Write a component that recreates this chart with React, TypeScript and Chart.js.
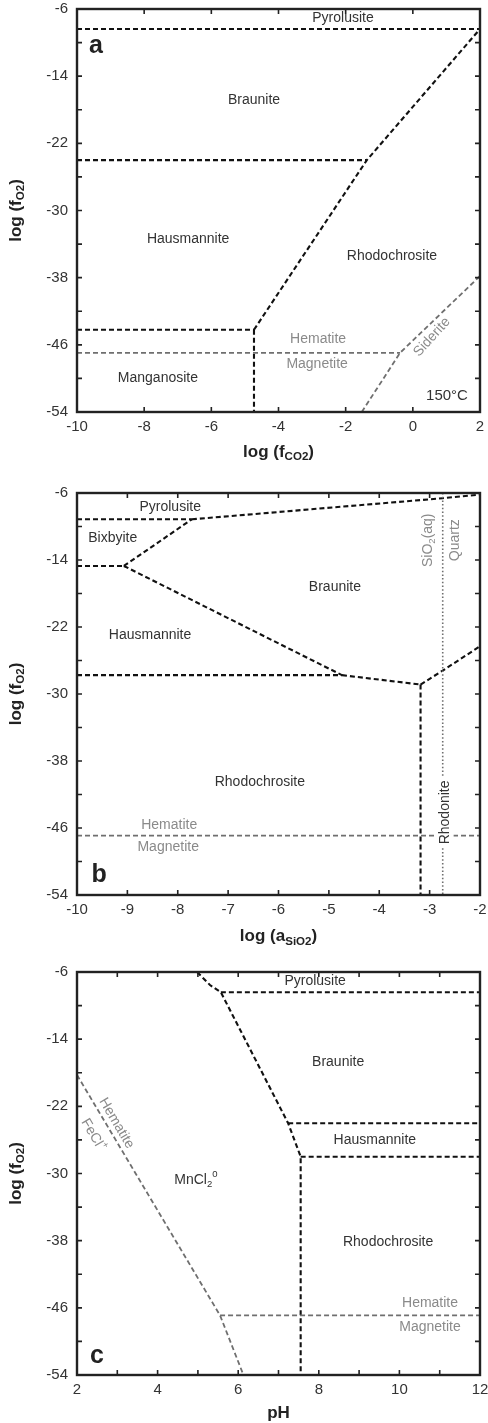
import { useEffect, useRef } from "react";
import { Chart, registerables } from "chart.js";

Chart.register(...registerables);

type Pt = { x: number; y: number };
type Tag = { text: string; x: number; y: number; rot?: number };

const FONT = '"Liberation Sans", Arial, Helvetica, sans-serif';
const INK = "#222";
const TEXT = "#333";
const FE = "#8a8a8a";
const FE_LINE = "#6f6f6f";

// ---------- shared y axis: log fO2 ----------
const fO2Ticks = [-54, -50, -46, -42, -38, -34, -30, -26, -22, -18, -14, -10, -6];
const fO2Labels = [-54, -46, -38, -30, -22, -14, -6];

// ---------- panel a: log fO2 vs log fCO2 (150°C) ----------
const aCO2Ticks = [-10, -8, -6, -4, -2, 0, 2];
const aPyrolusite: Pt[] = [{ x: -10, y: -8.38 }, { x: 2, y: -8.38 }];
const aBraunHaus: Pt[] = [{ x: -10, y: -24 }, { x: -1.37, y: -24 }];
const aRhodoBound: Pt[] = [{ x: -4.73, y: -44.2 }, { x: -1.37, y: -24 }, { x: 2, y: -8.38 }];
const aHausMang: Pt[] = [{ x: -10, y: -44.2 }, { x: -4.73, y: -44.2 }];
const aMangRhodo: Pt[] = [{ x: -4.73, y: -44.2 }, { x: -4.73, y: -54 }];
const aHemMag: Pt[] = [{ x: -10, y: -46.95 }, { x: -0.38, y: -46.95 }];
const aSiderite: Pt[] = [{ x: -1.52, y: -54 }, { x: -0.38, y: -46.95 }, { x: 2, y: -37.8 }];
const aMnTags: Tag[] = [
  { text: "Pyrolusite", x: -2.08, y: -7.04 },
  { text: "Braunite", x: -4.73, y: -16.84 },
  { text: "Hausmannite", x: -6.69, y: -33.39 },
  { text: "Rhodochrosite", x: -0.62, y: -35.42 },
  { text: "Manganosite", x: -7.59, y: -49.95 },
];
const aFeTags: Tag[] = [
  { text: "Hematite", x: -2.82, y: -45.3 },
  { text: "Magnetite", x: -2.85, y: -48.28 },
  { text: "Siderite", x: 0.57, y: -45.07, rot: -48 },
];

// ---------- panel b: log fO2 vs log aSiO2 ----------
const bSiO2Ticks = [-10, -9, -8, -7, -6, -5, -4, -3, -2];
const bPyroBix: Pt[] = [{ x: -10, y: -9.14 }, { x: -7.72, y: -9.14 }];
const bPyroBraun: Pt[] = [{ x: -7.72, y: -9.14 }, { x: -2.74, y: -6.62 }, { x: -2, y: -6.2 }];
const bBixHaus: Pt[] = [{ x: -10, y: -14.71 }, { x: -9.07, y: -14.71 }];
const bBixBraun: Pt[] = [{ x: -9.07, y: -14.71 }, { x: -7.72, y: -9.14 }];
const bBraunHaus: Pt[] = [{ x: -9.07, y: -14.71 }, { x: -4.74, y: -27.75 }];
const bHausRhodo: Pt[] = [{ x: -10, y: -27.75 }, { x: -4.74, y: -27.75 }];
const bBraunRhodo: Pt[] = [{ x: -4.74, y: -27.75 }, { x: -3.18, y: -28.87 }];
const bBraunRhodonite: Pt[] = [{ x: -3.18, y: -28.87 }, { x: -2.74, y: -27.2 }, { x: -2, y: -24.3 }];
const bRhodoRhodonite: Pt[] = [{ x: -3.18, y: -28.87 }, { x: -3.18, y: -54 }];
const bHemMag: Pt[] = [{ x: -10, y: -46.9 }, { x: -2, y: -46.9 }];
const bQuartz: Pt[] = [{ x: -2.74, y: -6 }, { x: -2.74, y: -54 }];
const bMnTags: Tag[] = [
  { text: "Pyrolusite", x: -8.15, y: -7.67 },
  { text: "Bixbyite", x: -9.29, y: -11.37 },
  { text: "Braunite", x: -4.88, y: -17.25 },
  { text: "Hausmannite", x: -8.55, y: -22.97 },
  { text: "Rhodochrosite", x: -6.37, y: -40.47 },
];
const bBoxedTags: Tag[] = [{ text: "Rhodonite", x: -2.69, y: -44.14, rot: -90 }];
const bFeTags: Tag[] = [
  { text: "SiO_2(aq)", x: -3.03, y: -11.64, rot: -90 },
  { text: "Quartz", x: -2.5, y: -11.64, rot: -90 },
  { text: "Hematite", x: -8.17, y: -45.63 },
  { text: "Magnetite", x: -8.19, y: -48.34 },
];

// ---------- panel c: log fO2 vs pH ----------
const cPHTicks = [2, 3, 4, 5, 6, 7, 8, 9, 10, 11, 12];
const cPHLabels = [2, 4, 6, 8, 10, 12];
const cMnBound: Pt[] = [
  { x: 4.98, y: -6 },
  { x: 5.3, y: -7.55 },
  { x: 5.57, y: -8.42 },
  { x: 7.24, y: -24.02 },
  { x: 7.55, y: -28 },
  { x: 7.55, y: -54 },
];
const cPyroBraun: Pt[] = [{ x: 5.57, y: -8.42 }, { x: 12, y: -8.42 }];
const cBraunHaus: Pt[] = [{ x: 7.24, y: -24.02 }, { x: 12, y: -24.02 }];
const cHausRhodo: Pt[] = [{ x: 7.55, y: -28 }, { x: 12, y: -28 }];
const cFeCl: Pt[] = [{ x: 2, y: -18.26 }, { x: 5.55, y: -46.9 }, { x: 6.13, y: -54 }];
const cHemMag: Pt[] = [{ x: 5.55, y: -46.9 }, { x: 12, y: -46.9 }];
const cMnTags: Tag[] = [
  { text: "Pyrolusite", x: 7.91, y: -7.07 },
  { text: "Braunite", x: 8.48, y: -16.76 },
  { text: "Hausmannite", x: 9.39, y: -26.01 },
  { text: "MnCl_2^0", x: 4.95, y: -30.77 },
  { text: "Rhodochrosite", x: 9.72, y: -38.12 },
];
const cFeTags: Tag[] = [
  { text: "Hematite", x: 2.98, y: -24.02, rot: 59.5 },
  { text: "FeCl^+", x: 2.4, y: -25.41, rot: 59.5 },
  { text: "Hematite", x: 10.76, y: -45.46 },
  { text: "Magnetite", x: 10.76, y: -48.25 },
];

type Panel = {
  height: number;
  top: number;
  xAxisH: number;
  xMin: number;
  xMax: number;
  xTicks: number[];
  xLabels: number[];
  xTitle: string;
  titleGap: number;
  black: Pt[][];
  gray: Pt[][];
  dotted: Pt[][];
  mnTags: Tag[];
  feTags: Tag[];
  boxedTags: Tag[];
  letter: Tag;
  note?: Tag;
};

const panels: Panel[] = [
  {
    height: 470, top: 9, xAxisH: 58, xMin: -10, xMax: 2,
    xTicks: aCO2Ticks, xLabels: aCO2Ticks, xTitle: "log (f_{CO2})", titleGap: 40,
    black: [aPyrolusite, aBraunHaus, aRhodoBound, aHausMang, aMangRhodo],
    gray: [aHemMag, aSiderite], dotted: [],
    mnTags: aMnTags, feTags: aFeTags, boxedTags: [],
    letter: { text: "a", x: -9.64, y: -11.28 },
    note: { text: "150°C", x: 1.64, y: -52.09 },
  },
  {
    height: 480, top: 23, xAxisH: 55, xMin: -10, xMax: -2,
    xTicks: bSiO2Ticks, xLabels: bSiO2Ticks, xTitle: "log (a_{SiO2})", titleGap: 41.5,
    black: [bPyroBix, bPyroBraun, bBixHaus, bBixBraun, bBraunHaus, bHausRhodo, bBraunRhodo, bBraunRhodonite, bRhodoRhodonite],
    gray: [bHemMag], dotted: [bQuartz],
    mnTags: bMnTags, feTags: bFeTags, boxedTags: bBoxedTags,
    letter: { text: "b", x: -9.71, y: -52.39 },
  },
  {
    height: 473, top: 22, xAxisH: 48, xMin: 2, xMax: 12,
    xTicks: cPHTicks, xLabels: cPHLabels, xTitle: "pH", titleGap: 38.5,
    black: [cMnBound, cPyroBraun, cBraunHaus, cHausRhodo],
    gray: [cFeCl, cHemMag], dotted: [],
    mnTags: cMnTags, feTags: cFeTags, boxedTags: [],
    letter: { text: "c", x: 2.32, y: -52.61 },
  },
];

type Seg = { t: string; mode: 0 | 1 | 2 };

// "_x" / "_{xy}" -> subscript, "^x" / "^{xy}" -> superscript
function parseRich(s: string): Seg[] {
  const out: Seg[] = [];
  let buf = "";
  let i = 0;
  while (i < s.length) {
    const c = s[i];
    if ((c === "_" || c === "^") && i + 1 < s.length) {
      if (buf) { out.push({ t: buf, mode: 0 }); buf = ""; }
      let t: string;
      if (s[i + 1] === "{") {
        const j = s.indexOf("}", i + 2);
        t = s.slice(i + 2, j);
        i = j + 1;
      } else {
        t = s[i + 1];
        i += 2;
      }
      out.push({ t, mode: c === "_" ? 1 : 2 });
    } else {
      buf += c;
      i++;
    }
  }
  if (buf) out.push({ t: buf, mode: 0 });
  return out;
}

type RichOpts = {
  size: number;
  weight?: string;
  color: string;
  align?: "left" | "center" | "right";
  baseline?: "middle" | "alphabetic";
  rot?: number;
  box?: boolean;
};

function drawRich(ctx: CanvasRenderingContext2D, s: string, x: number, y: number, o: RichOpts) {
  const segs = parseRich(s);
  const weight = o.weight ?? "normal";
  const small = o.size * 0.68;
  const fontOf = (sg: Seg) => `${weight} ${sg.mode ? small : o.size}px ${FONT}`;
  let w = 0;
  const widths = segs.map((sg) => {
    ctx.font = fontOf(sg);
    const m = ctx.measureText(sg.t).width;
    w += m;
    return m;
  });
  ctx.save();
  ctx.translate(x, y);
  ctx.rotate(((o.rot ?? 0) * Math.PI) / 180);
  const align = o.align ?? "center";
  let cx = align === "center" ? -w / 2 : align === "right" ? -w : 0;
  if (o.box) {
    ctx.fillStyle = "#fff";
    ctx.fillRect(cx - 3, -o.size * 0.6, w + 6, o.size * 1.2);
  }
  ctx.fillStyle = o.color;
  ctx.textAlign = "left";
  ctx.textBaseline = o.baseline ?? "middle";
  segs.forEach((sg, k) => {
    ctx.font = fontOf(sg);
    const dy = sg.mode === 1 ? o.size * 0.3 : sg.mode === 2 ? -o.size * 0.38 : 0;
    ctx.fillText(sg.t, cx, dy);
    cx += widths[k];
  });
  ctx.restore();
}

function makeOverlay(p: Panel) {
  return {
    id: "phaseOverlay",
    afterDraw(chart: Chart) {
      const { ctx, chartArea: ca } = chart;
      const xs = chart.scales.x;
      const ys = chart.scales.y;
      const px = (v: number) => xs.getPixelForValue(v);
      const py = (v: number) => ys.getPixelForValue(v);
      ctx.save();

      // inward tick marks on all four sides
      ctx.strokeStyle = INK;
      ctx.lineWidth = 1.6;
      ctx.beginPath();
      for (const v of p.xTicks) {
        const X = px(v);
        ctx.moveTo(X, ca.bottom);
        ctx.lineTo(X, ca.bottom - 5);
        ctx.moveTo(X, ca.top);
        ctx.lineTo(X, ca.top + 5);
      }
      for (const v of fO2Ticks) {
        const Y = py(v);
        ctx.moveTo(ca.left, Y);
        ctx.lineTo(ca.left + 5, Y);
        ctx.moveTo(ca.right, Y);
        ctx.lineTo(ca.right - 5, Y);
      }
      ctx.stroke();

      // plot frame
      ctx.lineWidth = 2.4;
      ctx.strokeRect(ca.left, ca.top, ca.right - ca.left, ca.bottom - ca.top);

      // field labels
      for (const t of p.mnTags) drawRich(ctx, t.text, px(t.x), py(t.y), { size: 14, color: TEXT, rot: t.rot });
      for (const t of p.boxedTags) drawRich(ctx, t.text, px(t.x), py(t.y), { size: 14, color: TEXT, rot: t.rot, box: true });
      for (const t of p.feTags) drawRich(ctx, t.text, px(t.x), py(t.y), { size: 14, color: FE, rot: t.rot });
      drawRich(ctx, p.letter.text, px(p.letter.x), py(p.letter.y), {
        size: 25, weight: "bold", color: INK, align: "left", baseline: "alphabetic",
      });
      if (p.note) drawRich(ctx, p.note.text, px(p.note.x), py(p.note.y), { size: 15, color: TEXT, align: "right" });

      // axis titles
      drawRich(ctx, p.xTitle, (ca.left + ca.right) / 2, ca.bottom + p.titleGap, { size: 17, weight: "bold", color: INK });
      drawRich(ctx, "log (f_{O2})", 16, (ca.top + ca.bottom) / 2, { size: 17, weight: "bold", color: INK, rot: -90 });
      ctx.restore();
    },
  };
}

function buildConfig(p: Panel): any {
  const line = (data: Pt[], color: string, width: number, dash: number[]) => ({
    data,
    showLine: true,
    borderColor: color,
    borderWidth: width,
    borderDash: dash,
    pointRadius: 0,
    pointHoverRadius: 0,
    fill: false,
    tension: 0,
  });
  const datasets = [
    ...p.gray.map((d) => line(d, FE_LINE, 1.8, [5, 3])),
    ...p.dotted.map((d) => line(d, FE_LINE, 1.6, [1.5, 2.2])),
    ...p.black.map((d) => line(d, "#111", 2.1, [5, 3])),
  ];
  const tickFont = { size: 15, family: FONT, lineHeight: 1 };
  // tick labels may hang past the plot edges; keep the plot box fixed
  const noOverhang = (s: any) => {
    s.paddingLeft = 0;
    s.paddingRight = 0;
    s.paddingTop = 0;
    s.paddingBottom = 0;
  };
  return {
    type: "scatter",
    data: { datasets },
    options: {
      responsive: false,
      animation: false,
      devicePixelRatio: 1,
      events: [],
      layout: { padding: { top: p.top, right: 8, left: 0, bottom: 0 } },
      plugins: { legend: { display: false }, tooltip: { enabled: false }, title: { display: false } },
      scales: {
        x: {
          type: "linear",
          min: p.xMin,
          max: p.xMax,
          afterBuildTicks: (s: any) => { s.ticks = p.xTicks.map((v) => ({ value: v })); },
          afterFit: (s: any) => { s.height = p.xAxisH; noOverhang(s); },
          ticks: {
            autoSkip: false,
            maxRotation: 0,
            minRotation: 0,
            padding: 7.5,
            color: TEXT,
            font: tickFont,
            callback: (v: number) => (p.xLabels.includes(v) ? String(v) : ""),
          },
          grid: { display: false, drawTicks: false },
          border: { display: false },
        },
        y: {
          type: "linear",
          min: -54,
          max: -6,
          afterBuildTicks: (s: any) => { s.ticks = fO2Ticks.map((v) => ({ value: v })); },
          afterFit: (s: any) => { s.width = 77; noOverhang(s); },
          ticks: {
            autoSkip: false,
            padding: 9,
            color: TEXT,
            font: tickFont,
            callback: (v: number) => (fO2Labels.includes(v) ? String(v) : ""),
          },
          grid: { display: false, drawTicks: false },
          border: { display: false },
        },
      },
    },
    plugins: [makeOverlay(p)],
  };
}

function PhasePanel({ panel }: { panel: Panel }) {
  const ref = useRef<HTMLCanvasElement | null>(null);
  useEffect(() => {
    if (!ref.current) return;
    const chart = new Chart(ref.current, buildConfig(panel));
    return () => chart.destroy();
  }, [panel]);
  return (
    <canvas
      ref={ref}
      width={488}
      height={panel.height}
      style={{ display: "block", width: 488, height: panel.height }}
    />
  );
}

export default function App() {
  return (
    <div style={{ position: "absolute", left: 0, top: 0, width: 488, height: 1423, background: "#fff" }}>
      {panels.map((p, i) => (
        <PhasePanel key={i} panel={p} />
      ))}
    </div>
  );
}
